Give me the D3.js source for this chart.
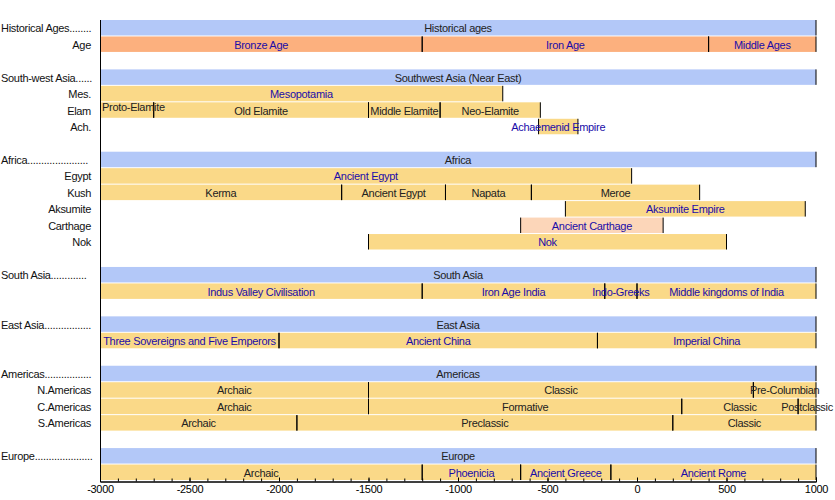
<!DOCTYPE html>
<html><head><meta charset="utf-8">
<script src="https://cdn.jsdelivr.net/npm/d3@7"></script>
<style>body{margin:0;background:#fff}text{font-family:"Liberation Sans",Arial,sans-serif}</style>
</head><body><svg id="chart"></svg>
<script>
'use strict';
// row ids top to bottom (s* = spacer)
const rows = ['hist','age','s1','swa','mes','elam','ach','s2','afr','egypt','kush','aksum','carth','nok','s3','sa','sar','s4','ea','ear','s5','am','nam','cam','sam','s6','eu','eur'];
const groupLabels = [['hist','Historical Ages........'],['swa','South-west Asia......'],['afr','Africa......................'],['sa','South Asia.............'],['ea','East Asia.................'],['am','Americas.................'],['eu','Europe.....................']];
const rowLabels = [['age','Age'],['mes','Mes.'],['elam','Elam'],['ach','Ach.'],['egypt','Egypt'],['kush','Kush'],['aksum','Aksumite'],['carth','Carthage'],['nok','Nok'],['nam','N.Americas'],['cam','C.Americas'],['sam','S.Americas']];
// [row, start, end, label, kind, link]  kind: h=header, o=orange, y=yellow, p=peach
const bars = [
  ['hist',-3000,1000,'Historical ages','h',0],
  ['age',-3000,-1200,'Bronze Age','o',1],['age',-1200,400,'Iron Age','o',1],['age',400,1000,'Middle Ages','o',1],
  ['swa',-3000,1000,'Southwest Asia (Near East)','h',0],
  ['mes',-3000,-750,'Mesopotamia','y',1],
  ['elam',-3000,-2700,'Proto-Elamite','y',0],['elam',-2700,-1500,'Old Elamite','y',0],['elam',-1500,-1100,'Middle Elamite','y',0],['elam',-1100,-540,'Neo-Elamite','y',0],
  ['ach',-550,-330,'Achaemenid Empire','y',1],
  ['afr',-3000,1000,'Africa','h',0],
  ['egypt',-3000,-30,'Ancient Egypt','y',1],
  ['kush',-3000,-1650,'Kerma','y',0],['kush',-1650,-1070,'Ancient Egypt','y',0],['kush',-1070,-590,'Napata','y',0],['kush',-590,350,'Meroe','y',0],
  ['aksum',-400,940,'Aksumite Empire','y',1],
  ['carth',-650,146,'Ancient Carthage','p',1],
  ['nok',-1500,500,'Nok','y',1],
  ['sa',-3000,1000,'South Asia','h',0],
  ['sar',-3000,-1200,'Indus Valley Civilisation','y',1],['sar',-1200,-180,'Iron Age India','y',1],['sar',-180,0,'Indo-Greeks','y',1],['sar',0,1000,'Middle kingdoms of India','y',1],
  ['ea',-3000,1000,'East Asia','h',0],
  ['ear',-3000,-2000,'Three Sovereigns and Five Emperors','y',1],['ear',-2000,-221,'Ancient China','y',1],['ear',-221,1000,'Imperial China','y',1],
  ['am',-3000,1000,'Americas','h',0],
  ['nam',-3000,-1500,'Archaic','y',0],['nam',-1500,650,'Classic','y',0],['nam',650,1000,'Pre-Columbian','y',0],
  ['cam',-3000,-1500,'Archaic','y',0],['cam',-1500,250,'Formative','y',0],['cam',250,900,'Classic','y',0],['cam',900,1000,'Postclassic','y',0],
  ['sam',-3000,-1900,'Archaic','y',0],['sam',-1900,200,'Preclassic','y',0],['sam',200,1000,'Classic','y',0],
  ['eu',-3000,1000,'Europe','h',0],
  ['eur',-3000,-1200,'Archaic','y',0],['eur',-1200,-650,'Phoenicia','y',1],['eur',-650,-146,'Ancient Greece','y',1],['eur',-146,1000,'Ancient Rome','y',1]
];
const fills = {h:'#b3c8f8', o:'#fcb07e', y:'#fad988', p:'#fcd6b9'};

const W = 835, H = 500;
const svg = d3.select('#chart').attr('width', W).attr('height', H);
const x = d3.scaleLinear().domain([-3000, 1000]).range([100, 816]);
const y = d3.scaleBand().domain(rows).range([20, 481]);
const bh = y.bandwidth();

const g = svg.append('g');
g.selectAll('rect').data(bars).enter().append('rect')
    .attr('x', d => x(d[1])).attr('y', d => y(d[0]))
    .attr('width', d => x(d[2]) - x(d[1])).attr('height', bh - 1)
    .attr('fill', d => fills[d[4]]);

g.selectAll('line.sep').data(bars.flatMap(d => [[d[0], d[1]], [d[0], d[2]]]).filter(d => d[1] > -3000))
  .enter().append('line').attr('class', 'sep')
    .attr('x1', d => x(d[1])).attr('x2', d => x(d[1]))
    .attr('y1', d => y(d[0])).attr('y2', d => y(d[0]) + bh - 1)
    .attr('stroke', '#000').attr('stroke-width', 1);

// Proto-Elamite sits flush left in the reference
g.selectAll('text.bl').data(bars).enter().append('text').attr('class', 'bl')
    .attr('x', d => d[3] === 'Proto-Elamite' ? x(d[1]) + 2 : (x(d[1]) + x(d[2])) / 2)
    .attr('y', d => y(d[0]) + bh / 2 + (d[3] === 'Proto-Elamite' ? 0 : 4))
    .attr('text-anchor', d => d[3] === 'Proto-Elamite' ? 'start' : 'middle')
    .attr('font-size', 11).attr('letter-spacing', -0.3)
    .attr('fill', d => d[5] ? '#1a0ca8' : '#222')
    .text(d => d[3]);

svg.selectAll('text.gl').data(groupLabels).enter().append('text').attr('class', 'gl')
    .attr('x', 1).attr('y', d => y(d[0]) + bh / 2 + 4)
    .attr('font-size', 11).attr('letter-spacing', -0.3).attr('fill', '#111').text(d => d[1]);
svg.selectAll('text.rl').data(rowLabels).enter().append('text').attr('class', 'rl')
    .attr('x', 91).attr('y', d => y(d[0]) + bh / 2 + 4).attr('text-anchor', 'end')
    .attr('font-size', 11).attr('letter-spacing', -0.3).attr('fill', '#111').text(d => d[1]);

// axes
svg.append('line').attr('x1', 100.5).attr('x2', 100.5).attr('y1', 20).attr('y2', 481).attr('stroke', '#000');
const ax = svg.append('g').attr('transform', 'translate(0,481.5)');
ax.call(d3.axisBottom(x).tickValues(d3.range(-3000, 1001, 100)).tickSize(-3).tickFormat(''));
const ax2 = svg.append('g').attr('transform', 'translate(0,481.5)');
ax2.call(d3.axisBottom(x).tickValues(d3.range(-3000, 1001, 500)).tickSize(-4).tickPadding(4).tickFormat(d => String(d)));
ax2.selectAll('text').attr('font-size', 11).attr('font-family', '"Liberation Sans",Arial,sans-serif').attr('fill', '#000').attr('letter-spacing', -0.3);
ax.select('.domain').attr('stroke', '#000');
ax2.select('.domain').attr('stroke', '#000');
</script></body></html>
